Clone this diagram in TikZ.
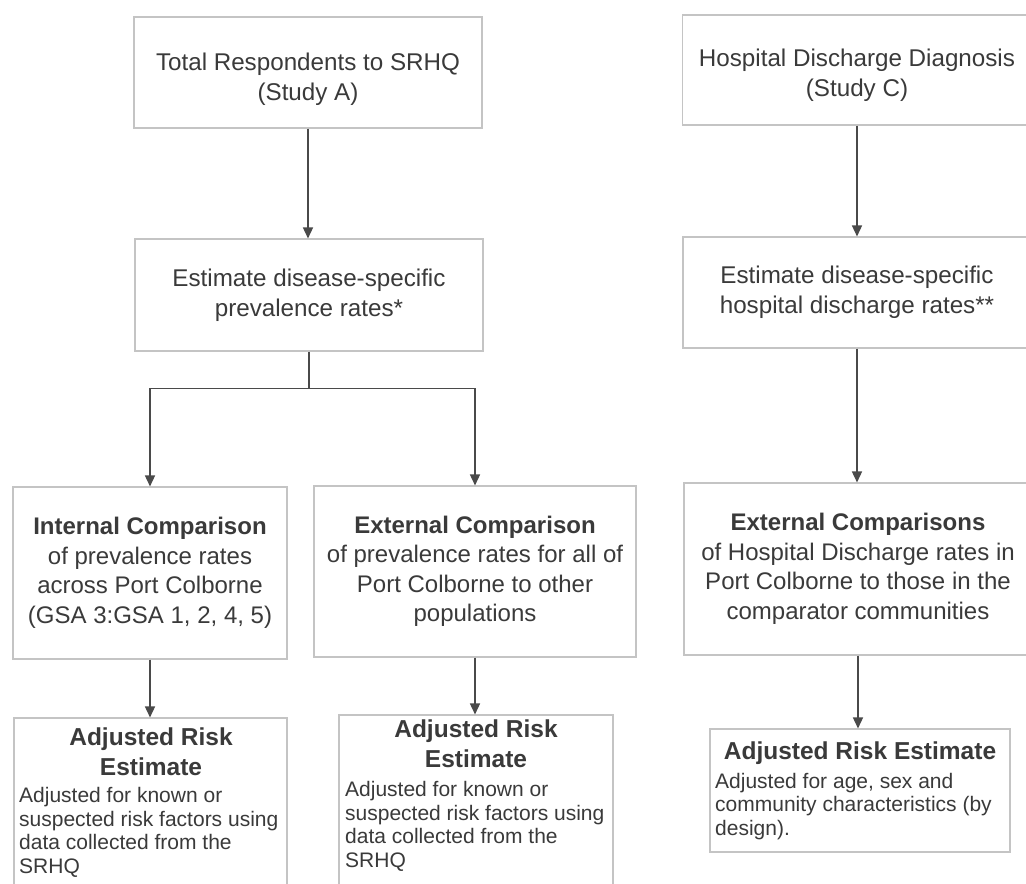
\documentclass[tikz,border=0pt]{standalone}
\usepackage{fontspec}
\setmainfont{Liberation Sans}
\usetikzlibrary{arrows.meta}
\definecolor{txt}{HTML}{3A3A3A}
\definecolor{edge}{HTML}{C4C4C4}
\definecolor{arr}{HTML}{4A4A4A}
\begin{document}
\begin{tikzpicture}[x=1pt,y=-1pt,
  boxnode/.style={draw=edge, line width=1.1pt, rectangle, inner sep=0pt, align=center, text=txt},
  topfont/.style={font=\fontsize{24.2}{30}\selectfont},
  midfont/.style={font=\fontsize{24}{29.5}\selectfont},
  titlefont/.style={font=\fontsize{24.5}{29.5}\selectfont\bfseries, text=txt, inner sep=0pt, align=center},
  bodyfont/.style={font=\fontsize{21}{23.4}\selectfont, text=txt, inner sep=0pt, align=left},
  link/.style={draw=arr, line width=1.5pt, -{Triangle[length=11pt,width=10pt]}},
  plain/.style={draw=arr, line width=1.5pt}]
\useasboundingbox (0,0) rectangle (1026,884);
\clip (0,0) rectangle (1026,884);
\fill[white] (0,0) rectangle (1026,884);

% left column
\node[boxnode, topfont, minimum width=348pt, minimum height=111pt] (srhq) at (308,72.5)
  {\rule{0pt}{32pt}Total Respondents to SRHQ\\(Study A)};
\node[boxnode, topfont, minimum width=348pt, minimum height=112pt] (prev) at (309,295)
  {Estimate disease-specific\\prevalence rates*};
\node[boxnode, midfont, minimum width=274pt, minimum height=172pt] (intc) at (150,573)
  {\textbf{Internal Comparison}\\of prevalence rates\\across Port Colborne\\(GSA 3:GSA 1, 2, 4, 5)};
\node[boxnode, midfont, minimum width=322pt, minimum height=171pt] (extc) at (475,571.5)
  {\textbf{External Comparison}\\of prevalence rates for all of\\Port Colborne to other\\populations};
\node[boxnode, minimum width=273pt, minimum height=174pt] (adjl) at (150.5,805) {};
\node[boxnode, minimum width=274pt, minimum height=178pt] (adjm) at (476,804) {};

% right column
\node[boxnode, topfont, minimum width=349pt, minimum height=110pt] (hosp) at (857,70)
  {\rule{0pt}{28pt}Hospital Discharge Diagnosis\\(Study C)};
\node[boxnode, topfont, minimum width=348pt, minimum height=111pt] (hdr) at (857,292.5)
  {Estimate disease-specific\\hospital discharge rates**};
\node[boxnode, midfont, minimum width=348pt, minimum height=172pt] (extr) at (858,569)
  {\textbf{External Comparisons}\\of Hospital Discharge rates in\\Port Colborne to those in the\\comparator communities};
\node[boxnode, minimum width=300pt, minimum height=123pt] (adjr) at (860,790.5) {};

% texts of the adjusted boxes (base anchor = baseline of last line)
\node[titlefont, anchor=base] (tl) at (151,775) {Adjusted Risk\\Estimate};
\node[bodyfont, anchor=base west] (bl) at (19,873)
  {Adjusted for known or\\suspected risk factors using\\data collected from the\\SRHQ};
\node[titlefont, anchor=base] (tm) at (476,767) {Adjusted Risk\\Estimate};
\node[bodyfont, anchor=base west] (bm) at (345,867)
  {Adjusted for known or\\suspected risk factors using\\data collected from the\\SRHQ};
\node[titlefont, anchor=base] (tr) at (860,759) {Adjusted Risk Estimate};
\node[bodyfont, anchor=base west] (br) at (715,835)
  {Adjusted for age, sex and\\community characteristics (by\\design).};

% connectors
\draw[link] (srhq.south) -- (srhq.south |- prev.north);
\coordinate (split) at ([yshift=-37pt]prev.south);
\draw[plain] (prev.south) -- (split);
\draw[link] (split) -| (intc.north);
\draw[link] (split) -| (extc.north);
\draw[link] (intc.south) -- (intc.south |- adjl.north);
\draw[link] (extc.south) -- (extc.south |- adjm.north);
\draw[link] (hosp.south) -- (hosp.south |- hdr.north);
\draw[link] (hdr.south) -- (hdr.south |- extr.north);
\draw[link] (extr.south) -- (extr.south |- adjr.north);
\end{tikzpicture}
\end{document}
